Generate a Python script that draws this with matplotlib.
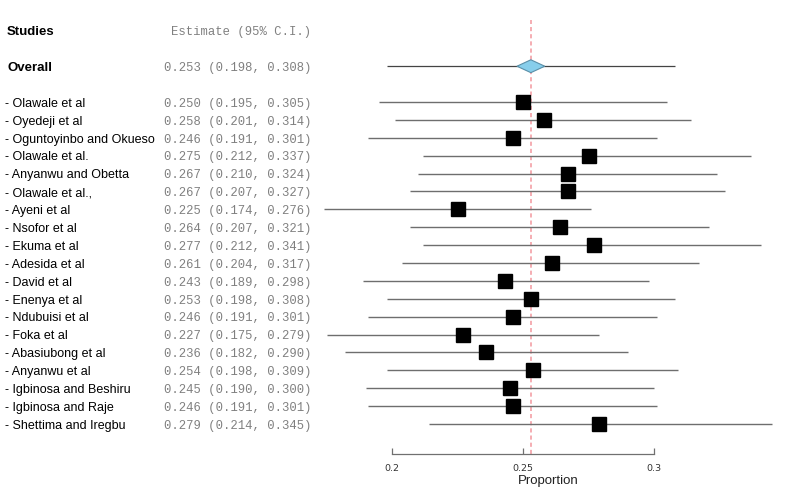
import matplotlib.pyplot as plt
from matplotlib.patches import Polygon
import matplotlib.transforms as mtransforms

studies = ['Olawale et al', 'Oyedeji et al', 'Oguntoyinbo and Okueso', 'Olawale et al.',
           'Anyanwu and Obetta', 'Olawale et al.,', 'Ayeni et al', 'Nsofor et al',
           'Ekuma et al', 'Adesida et al', 'David et al', 'Enenya et al', 'Ndubuisi et al',
           'Foka et al', 'Abasiubong et al', 'Anyanwu et al', 'Igbinosa and Beshiru',
           'Igbinosa and Raje', 'Shettima and Iregbu']
est = [0.250, 0.258, 0.246, 0.275, 0.267, 0.267, 0.225, 0.264, 0.277, 0.261,
       0.243, 0.253, 0.246, 0.227, 0.236, 0.254, 0.245, 0.246, 0.279]
lower = [0.195, 0.201, 0.191, 0.212, 0.210, 0.207, 0.174, 0.207, 0.212, 0.204,
         0.189, 0.198, 0.191, 0.175, 0.182, 0.198, 0.190, 0.191, 0.214]
upper = [0.305, 0.314, 0.301, 0.337, 0.324, 0.327, 0.276, 0.321, 0.341, 0.317,
         0.298, 0.308, 0.301, 0.279, 0.290, 0.309, 0.300, 0.301, 0.345]
overall = (0.253, 0.198, 0.308)
ticks = [0.2, 0.25, 0.3]

W, H = 792, 499
fig = plt.figure(figsize=(W / 100, H / 100), dpi=100)
ax = fig.add_axes([0, 45 / H, 1, (H - 45) / H])

# pixel layout: 0.2 at x=392, 0.05 per 131 px; first study row at y=102, 17.89 px per row
ppu = 131 / 0.05
ax.set_xlim(0.2 - 392 / ppu, 0.2 + (W - 392) / ppu)
row = 17.89
ax.set_ylim((454 - 102) / row, -102 / row)

for s in ['top', 'right', 'left']:
    ax.spines[s].set_visible(False)
ax.spines['bottom'].set_bounds(ticks[0], ticks[-1])
ax.spines['bottom'].set_color('#707070')
ax.spines['bottom'].set_linewidth(0.9)
ax.set_yticks([])
ax.set_xticks(ticks)
ax.set_xticklabels([f'{t:g}' for t in ticks])
ax.tick_params(axis='x', direction='in', length=4, width=0.9, color='#707070',
               labelsize=6.8, labelcolor='#333333', pad=7)
ax.set_xlabel('Proportion', fontsize=9.5, color='#222222', family='Liberation Sans')
ax.xaxis.set_label_coords(548 / W, -21 / (H - 45))

ys = list(range(len(studies)))
y_overall = -2
y_head = -4
dy = 0.1  # text sits a touch lower than the marks

# reference line
ax.axvline(overall[0], ymin=0, ymax=(454 - 20) / (H - 45), color='#f4a0a6',
           ls=(0, (2.5, 1.8)), lw=1.2, zorder=1)

# study CIs and squares
ax.hlines(ys, lower, upper, color='#6e6e6e', lw=1.0, zorder=2)
ax.plot(est, ys, 's', color='black', ms=10.5, zorder=3)

# overall CI and diamond
ax.hlines(y_overall, overall[1], overall[2], color='#444444', lw=0.9, zorder=2)
dw, dh = 0.0053, 0.36
ax.add_patch(Polygon([(overall[0] - dw, y_overall), (overall[0], y_overall - dh),
                      (overall[0] + dw, y_overall), (overall[0], y_overall + dh)],
                     closed=True, facecolor='#87ceeb', edgecolor='#5a8fa8', lw=0.8, zorder=3))

trans = mtransforms.blended_transform_factory(ax.transAxes, ax.transData)
name_font = dict(family='Liberation Sans', fontsize=9, color='black')
num_font = dict(family='Liberation Mono', fontsize=8.8, color='#808080')

ax.text(7 / W, y_head + dy, 'Studies', transform=trans, va='center', fontweight='bold',
        family='Liberation Sans', fontsize=9.5)
ax.text(171 / W, y_head + dy, 'Estimate (95% C.I.)', transform=trans, va='center', **num_font)
ax.text(7 / W, y_overall + dy, 'Overall', transform=trans, va='center', fontweight='bold',
        family='Liberation Sans', fontsize=9.5)
ax.text(164 / W, y_overall + dy, f'{overall[0]:.3f} ({overall[1]:.3f}, {overall[2]:.3f})',
        transform=trans, va='center', **num_font)

for y, name, e, lo, hi in zip(ys, studies, est, lower, upper):
    ax.text(5 / W, y + dy, f'- {name}', transform=trans, va='center', **name_font)
    ax.text(164 / W, y + dy, f'{e:.3f} ({lo:.3f}, {hi:.3f})', transform=trans,
            va='center', **num_font)

fig.savefig('out.png', dpi=100)
